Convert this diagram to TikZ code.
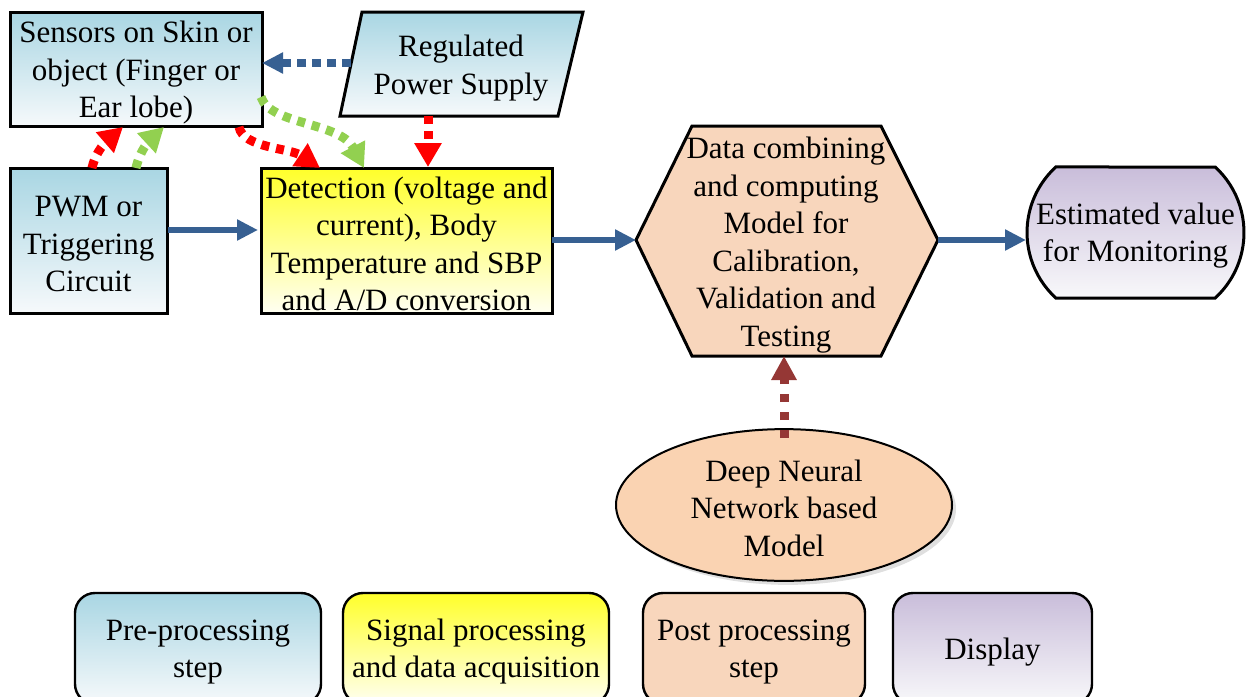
\documentclass[tikz,border=0pt]{standalone}
\usepackage{fontspec}
\setmainfont{Liberation Serif}
\usetikzlibrary{arrows.meta,shapes.geometric,shapes.misc,shadows}
\definecolor{bluetop}{HTML}{A9D6E3}
\definecolor{bluebot}{HTML}{F6F9FB}
\definecolor{yeltop}{HTML}{FFFF2A}
\definecolor{yelbot}{HTML}{FFFFF2}
\definecolor{peach}{HTML}{F8D6BC}
\definecolor{peachE}{HTML}{FAD3B2}
\definecolor{purtop}{HTML}{C9BDDA}
\definecolor{purbot}{HTML}{F8F8FA}
\definecolor{arrblue}{HTML}{376092}
\definecolor{arrred}{HTML}{FF0000}
\definecolor{arrgreen}{HTML}{92D050}
\definecolor{arrbrown}{HTML}{953735}
\newcommand\myStrut{\rule{0pt}{14pt}}
\begin{document}
\begin{tikzpicture}[x=0.5pt,y=-0.5pt,
  font=\fontsize{15.5}{18.75}\selectfont,
  every node/.style={align=center, inner sep=1pt},
  mainbox/.style={draw=black, line width=1.5pt, rectangle},
  prefill/.style={top color=bluetop, bottom color=bluebot},
  sigfill/.style={top color=yeltop, bottom color=yelbot},
  purfill/.style={top color=purtop, bottom color=purbot},
  legbox/.style={draw=black, line width=1.2pt, rounded corners=10pt, minimum height=55.5pt},
  solidarrow/.style={draw=arrblue, line width=3pt, -{Triangle[length=10.5pt,width=10pt]}},
  dotarrow/.style={line width=4.5pt, dash pattern=on 4pt off 3.5pt, -{Triangle[length=12pt,width=13pt]}},
]
\useasboundingbox (0,0) rectangle (1247,696);

% Sensors box
\node[mainbox, prefill, minimum width=126pt, minimum height=56.5pt] (sens) at (136,69.5)
  {\myStrut Sensors on Skin or\\object (Finger or\\Ear lobe)};
% PWM box
\node[mainbox, prefill, minimum width=78.5pt, minimum height=72.5pt] (pwm) at (88.5,240.5)
  {\myStrut PWM or\\Triggering\\Circuit};
% Detection box
\node[mainbox, sigfill, minimum width=145.5pt, minimum height=72.5pt] (det) at (406.5,240.5)
  {\myStrut Detection (voltage and\\current), Body\\Temperature and SBP\\and A/D conversion};

% Regulated power supply (parallelogram)
\path[draw=black, line width=1.5pt, prefill] (362,12) -- (583,12) -- (558,116) -- (340,116) -- cycle;
\node (reg) at (461,65) {\myStrut Regulated\\Power Supply};
\coordinate (regL) at (351,63);
\coordinate (regB) at (428,116);

% Hexagon
\path[draw=black, line width=1.5pt, fill=peach] (636,240) -- (692,126) -- (881,126) -- (938,240) -- (881,356) -- (692,356) -- cycle;
\node (hex) at (786,242) {\myStrut Data combining\\and computing\\Model for\\Calibration,\\Validation and\\Testing};
\coordinate (hexL) at (636,240);
\coordinate (hexR) at (938,240);
\coordinate (hexB) at (784,356);

% Estimated value
\node[draw=black, line width=1.5pt, purfill, rounded rectangle, rounded rectangle arc length=95,
  minimum width=110.5pt, minimum height=65.5pt] (est) at (1135.5,232.5)
  {\myStrut Estimated value\\for Monitoring};
\coordinate (estL) at (1026,240);

% Ellipse
\node[ellipse, draw=black, line width=1pt, fill=peachE, minimum width=168pt, minimum height=67pt,
  drop shadow={opacity=0.25, shadow xshift=2pt, shadow yshift=-2pt}] (dnn) at (784,505)
  {\myStrut Deep Neural\\Network based\\Model};

% Connectors
\coordinate (detL) at (258,230);
\coordinate (pwmR) at (168,230);
\draw[solidarrow] (pwmR) -- (detL);
\coordinate (detR) at (552,240);
\draw[solidarrow] (detR) -- (hexL);
\draw[solidarrow] (hexR) -- (estL);

\coordinate (sensR) at (262,63);
\draw[dotarrow, draw=arrblue, line width=4pt, dash pattern=on 4.5pt off 3pt, -{Triangle[length=10.5pt,width=10pt]}] (regL) -- (sensR);

\coordinate (detT) at (428,167);
\draw[dotarrow, draw=arrred] (regB) -- (detT);

\coordinate (pwmT1) at (92,168);
\coordinate (sensB1) at (123,127);
\draw[dotarrow, draw=arrred] (pwmT1) .. controls (96,150) and (108,140) .. (sensB1);
\coordinate (pwmT2) at (136,168);
\coordinate (sensB2) at (164,127);
\draw[dotarrow, draw=arrgreen] (pwmT2) .. controls (140,150) and (150,140) .. (sensB2);

\coordinate (sensB3) at (239,127);
\coordinate (detT1) at (320,168);
\draw[dotarrow, draw=arrred] (sensB3) .. controls (243,148) and (290,148) .. (detT1);
\coordinate (sensR2) at (261,97);
\coordinate (detT2) at (364,168);
\draw[dotarrow, draw=arrgreen] (sensR2) .. controls (270,125) and (340,122) .. (detT2);

\coordinate (dnnT) at (784,438);
\draw[dotarrow, draw=arrbrown, dash pattern=on 4pt off 5pt, -{Triangle[length=12pt,width=12pt]}] (dnnT) -- (hexB);

% Legend
\node[legbox, prefill, minimum width=123pt] (lg1) at (198,648.5) {\myStrut Pre-processing\\step};
\node[legbox, sigfill, minimum width=133pt] (lg2) at (476,648.5) {\myStrut Signal processing\\and data acquisition};
\node[legbox, fill=peach, minimum width=111pt] (lg3) at (754,648.5) {\myStrut Post processing\\step};
\node[legbox, purfill, minimum width=99.5pt] (lg4) at (992.5,648.5) {\myStrut Display};
\end{tikzpicture}
\end{document}
